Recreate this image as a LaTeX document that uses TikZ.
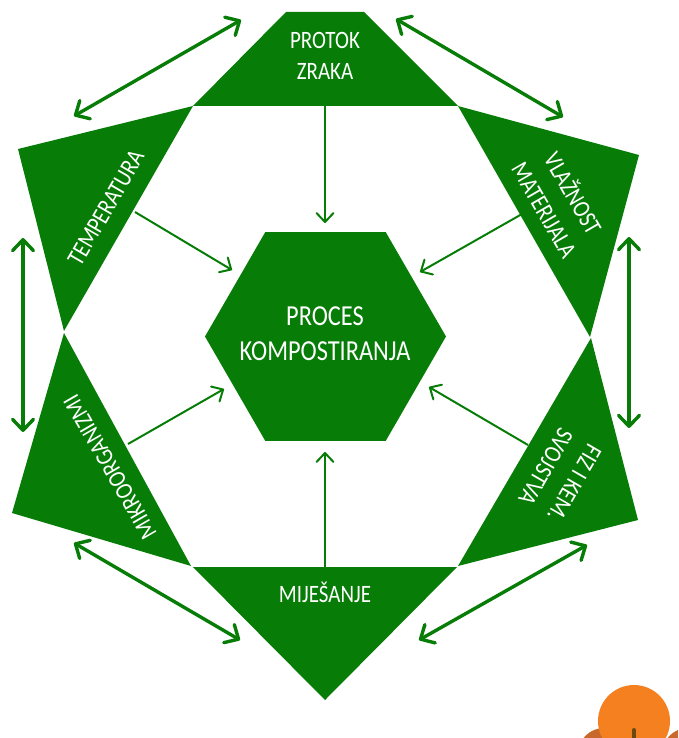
\documentclass[tikz,border=0pt]{standalone}
\usepackage{fontspec}
\setmainfont{Carlito}
\usetikzlibrary{arrows.meta, shapes.geometric}
\definecolor{compostgreen}{HTML}{077D07}
\definecolor{sunorange}{HTML}{F58020}
\definecolor{sunbrown}{HTML}{C8682C}
\definecolor{trunkbrown}{HTML}{6B4A12}
\tikzset{
	triangle/.style={fill=compostgreen},
	label/.style={text=white, align=center, xscale=0.84, font=\fontsize{25}{31}\selectfont, inner sep=0pt},
	biglabel/.style={label, font=\fontsize{29}{35}\selectfont},
	sidelabel/.style={label, font=\fontsize{25}{33}\selectfont},
	link/.style={-{Straight Barb[round, length=9pt, width=17pt]}, line width=2pt, compostgreen},
	pair/.style={{Straight Barb[round, length=11pt, width=21pt]}-{Straight Barb[round, length=11pt, width=21pt]}, line width=3.4pt, compostgreen}
}
\begin{document}
\begin{tikzpicture}[x=1pt, y=-1pt]
	\clip (0,0) rectangle (678,738);
	% Corner decoration
	\fill[sunbrown] (604,754) circle (26);
	\fill[sunbrown] (688,754) circle (26);
	\fill[sunorange] (634,721) circle (36);
	\draw[trunkbrown, line width=4pt, line cap=round] (634,730) -- (634,745);
	% Triangles
	\fill[triangle] (286,12) -- (364,12) -- (458,106) -- (193,106) -- cycle;
	\fill[triangle] (193,106) -- (18,149) -- (64,331) -- cycle;
	\fill[triangle] (458,106) -- (639,155) -- (590,337) -- cycle;
	\fill[triangle] (591,338) -- (638,520) -- (458,566) -- cycle;
	\fill[triangle] (64,333) -- (191,566) -- (12,513) -- cycle;
	\fill[triangle] (193,567) -- (457,567) -- (325,700) -- cycle;
	% Process
	\node[regular polygon, regular polygon sides=6, minimum size=241pt, inner sep=0pt, outer sep=0pt, fill=compostgreen] (proces) at (325.5,336.5) {};
	\node[biglabel] (procestext) at (325,334) {PROCES\\KOMPOSTIRANJA};
	% Labels
	\node[label] (protok) at (325,56) {PROTOK\\ZRAKA};
	\node[rotate=60, label] (temperatura) at (106,208) {TEMPERATURA};
	\node[rotate=-60, sidelabel] (vlaznost) at (560,201) {VLAŽNOST\\MATERIJALA};
	\node[rotate=240, sidelabel] (svojstva) at (560,475) {FIZ I KEM.\\SVOJSTVA};
	\node[rotate=120, label] (mikro) at (110,467) {MIKROORGANIZMI};
	\node[label] (mijesanje) at (325,592) {MIJEŠANJE};
	% Arrows to process
	\coordinate (protokout) at (325,106);
	\coordinate (protokin) at (325,223);
	\coordinate (tempout) at (135,212);
	\coordinate (tempin) at (232,270);
	\coordinate (vlazout) at (522,214);
	\coordinate (vlazin) at (420,272);
	\coordinate (svojout) at (528,445);
	\coordinate (svojin) at (429,387);
	\coordinate (mijout) at (325,567);
	\coordinate (mijin) at (325,452);
	\coordinate (mikroout) at (128,444);
	\coordinate (mikroin) at (224,389);
	\draw[link] (protokout) -- (protokin);
	\draw[link] (tempout) -- (tempin);
	\draw[link] (vlazout) -- (vlazin);
	\draw[link] (svojout) -- (svojin);
	\draw[link] (mijout) -- (mijin);
	\draw[link] (mikroout) -- (mikroin);
	% Arrows between factors
	\coordinate (a1) at (74,116);
	\coordinate (a2) at (241,20);
	\coordinate (b1) at (396,19);
	\coordinate (b2) at (563,117);
	\coordinate (c1) at (629,237);
	\coordinate (c2) at (629,428);
	\coordinate (d1) at (587,545);
	\coordinate (d2) at (419,640);
	\coordinate (e1) at (240,640);
	\coordinate (e2) at (74,543);
	\coordinate (f1) at (23,238);
	\coordinate (f2) at (23,432);
	\draw[pair] (a1) -- (a2);
	\draw[pair] (b1) -- (b2);
	\draw[pair] (c1) -- (c2);
	\draw[pair] (d1) -- (d2);
	\draw[pair] (e1) -- (e2);
	\draw[pair] (f1) -- (f2);
\end{tikzpicture}
\end{document}
